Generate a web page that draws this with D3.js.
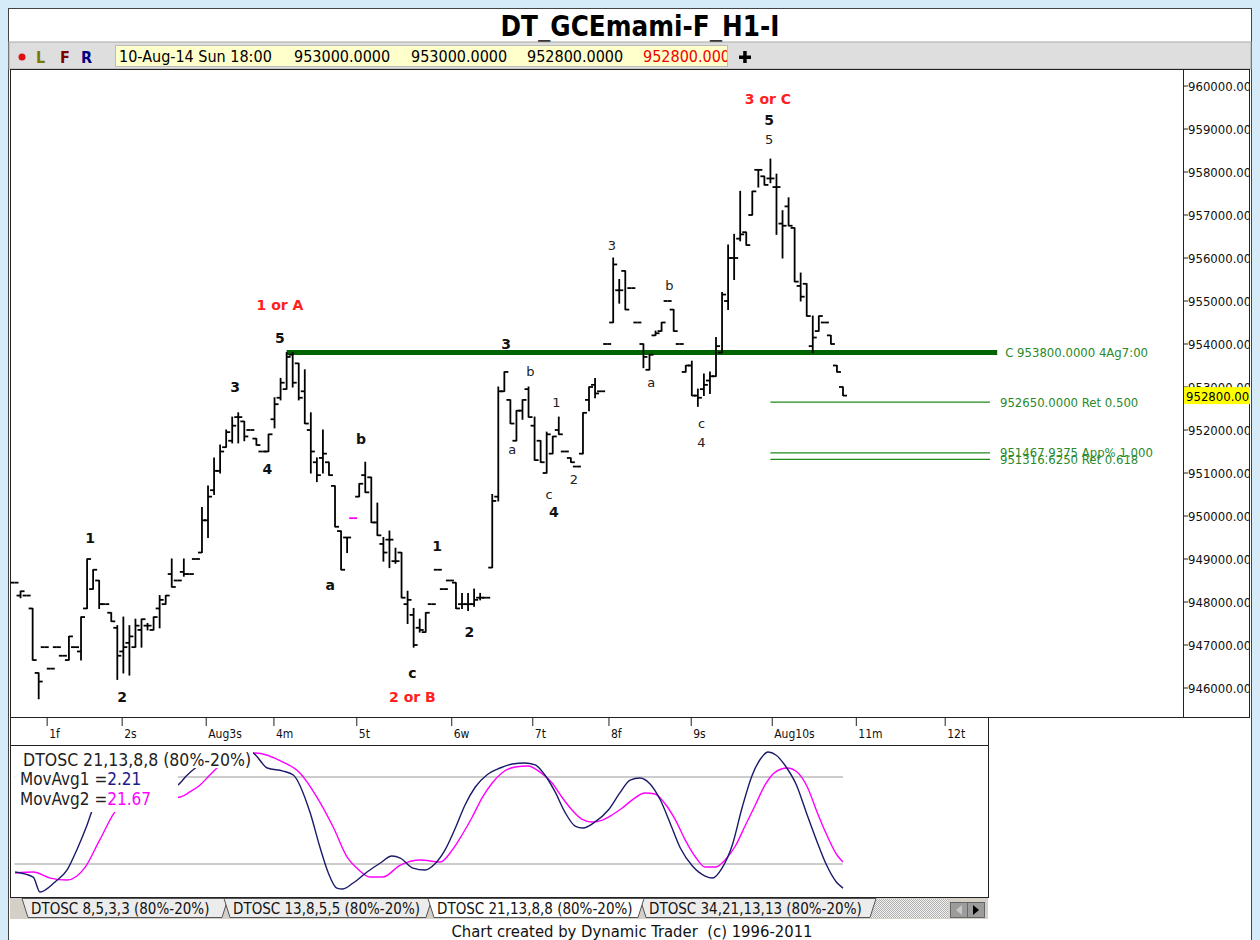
<!DOCTYPE html>
<html>
<head>
<meta charset="utf-8">
<script src="https://cdn.jsdelivr.net/npm/d3@7"></script>
<style>
  body { margin: 0; background: #d5ecf8; }
  svg { display: block; }
</style>
</head>
<body>
<svg id="chart" width="1260" height="940"></svg>
<script>
///////////////////////////////////////////
// Data
///////////////////////////////////////////
var chartTitle = "DT_GCEmami-F_H1-I";
var lastBarStamp = "10-Aug-14 Sun 18:00";

// hourly bars, [open, high, low, close]
var priceBars = [
  [948450,948450,948450,948450],[948150,948250,948100,948250],[948150,948150,948150,948150],
  [947850,947850,946650,946650],[946350,946350,945750,946150],[946950,946950,946950,946950],
  [946450,946450,946450,946450],[946950,946950,946950,946950],[946750,946750,946750,946750],
  [946650,947200,946650,947200],[946950,946950,946950,946950],[946850,947650,946650,947650],
  [947850,949000,947850,949000],[948300,948750,948300,948750],[948500,948500,947850,947950],
  [947950,947950,947950,947950],[947750,947750,947550,947550],[947400,947450,946200,946750],
  [946850,947650,946350,946950],[947050,947450,946300,947200],[946950,947600,946950,947450],
  [947350,947600,946950,947600],[947450,947500,947350,947450],[947350,947650,947350,947650],
  [947850,948150,947400,948050],[947950,948150,947950,948150],[948650,949000,948350,948350],
  [948500,948500,948500,948500],[948700,949000,948600,948650],[948650,948650,948650,948650],
  [949000,949000,949000,949000],[949150,950200,949150,949900],[949900,950700,949500,950450],
  [950600,951350,950500,951050],[951050,951650,951000,951500],[951600,952000,951600,951950],
  [951750,952300,951700,952100],[952300,952400,951700,952300],[952200,952200,951750,951850],
  [952000,952000,952000,952000],[951800,951800,951650,951650],[951500,951500,951500,951500],
  [951500,951900,951500,951900],[952250,952750,952050,952600],[952750,953200,952700,953100],
  [952950,953800,952950,953700],[953750,953800,953000,953100],[953550,953550,952700,952750],
  [952900,953400,952150,952150],[952000,952400,951000,951500],[951250,951350,950800,950950],
  [951350,952000,951000,951450],[951250,951250,950950,950950],[950700,950700,949750,949750],
  [949650,949650,948750,948750],[949500,949500,949150,949500],[949950,949950,949950,949950],
  [950450,950750,950450,950750],[950950,951250,950550,950550],[950900,950900,949850,949850],
  [949850,950300,949550,949550],[949350,949500,948950,949150],[949450,949650,948800,949450],
  [948950,949250,948900,948950],[949150,949150,948100,948100],[947950,948250,947500,948050],
  [947700,947850,946950,947000],[947400,947600,947300,947350],[947300,947750,947300,947750],
  [947950,947950,947950,947950],[948750,948750,948750,948750],[948300,948300,948300,948300],
  [948500,948500,948500,948500],[948450,948450,947850,947850],[947950,948200,947850,947950],
  [947950,948200,947800,947950],[947950,948300,947900,948050],[948100,948200,948050,948100],
  [948100,948100,948100,948100],[948800,950500,948800,950350],[950450,953000,950350,952900],
  [952900,953350,952900,953350],[952700,952700,952150,952150],[951750,952450,951750,952450],
  [952450,952700,952250,952700],[952950,953000,952300,952300],[952100,952300,951300,951300],
  [951750,951750,951250,951250],[951000,951950,951000,951900],[951450,951850,951450,951850],
  [952000,952300,951900,951900],[951500,951500,951500,951500],[951350,951350,951250,951250],
  [951150,951150,951150,951150],[951450,952400,951450,952400],[952700,953000,952450,953000],
  [953050,953200,952750,952850],[952900,952900,952900,952900],[954000,954000,954000,954000],
  [954500,956000,954500,955850],[955250,955500,954950,955250],[955700,955700,954800,954800],
  [955300,955300,955300,955300],[954500,954500,954500,954500],[954000,954000,953450,953700],
  [953400,953750,953400,953750],[954200,954300,954200,954250],[954300,954500,954300,954500],
  [955000,955000,955000,955000],[954800,954800,954300,954300],[954000,954000,954000,954000],
  [953350,953500,953350,953500],[953500,953600,952800,952800],[952800,952950,952550,952750],
  [952950,953300,952800,953050],[953150,953350,952850,953250],[953250,954150,953250,953950],
  [953800,955200,953800,955150],[955000,956300,954800,956000],[956000,956550,955500,956000],
  [956450,957550,956400,956550],[956600,956600,956300,956300],[957000,957550,957000,957550],
  [958050,958050,957650,958050],[957900,957900,957700,957700],[957850,958300,957750,957850],
  [957650,957950,956550,957650],[956800,957100,956000,956750],[957200,957400,956750,956750],
  [956700,956700,955450,955450],[955350,955650,955000,955100],[955400,955400,954650,954650],
  [953950,954650,953800,954150],[954300,954650,954300,954650],[954500,954500,954500,954500],
  [954200,954200,954000,954000],[953500,953500,953350,953350],[953000,953000,952800,952800]
];
var markerBar = 56;   // the one bar DT paints in magenta

var priceTicks = [946000,947000,948000,949000,950000,951000,952000,953000,
                  954000,955000,956000,957000,958000,959000,960000];

// day separators, in bar units
var dayTicks  = [5.4, 17.8, 31.7, 42.9, 56.6, 72.3, 85.7, 98.3, 111.9, 125.3, 139.2, 153.9];
var dayLabels = ["1f","2s","Aug3s","4m","5t","6w","7t","8f","9s","Aug10s","11m","12t"];

// wave counts: t = bar position, p = price
var waveLabels = [
  {t:12.5, p:949500, text:"1", kind:"major"},
  {t:17.8, p:945800, text:"2", kind:"major"},
  {t:36.5, p:953000, text:"3", kind:"major"},
  {t:41.8, p:951100, text:"4", kind:"major"},
  {t:43.9, p:954150, text:"5", kind:"major"},
  {t:43.9, p:954900, text:"1 or A", kind:"alt"},
  {t:52.2, p:948400, text:"a", kind:"major"},
  {t:57.3, p:951800, text:"b", kind:"major"},
  {t:65.8, p:946350, text:"c", kind:"major"},
  {t:65.8, p:945800, text:"2 or B", kind:"alt"},
  {t:69.9, p:949300, text:"1", kind:"major"},
  {t:75.2, p:947300, text:"2", kind:"major"},
  {t:81.3, p:954000, text:"3", kind:"major"},
  {t:89.2, p:950100, text:"4", kind:"major"},
  {t:124.6, p:959700, text:"3 or C", kind:"alt"},
  {t:124.8, p:959200, text:"5", kind:"major"},
  {t:85.3, p:953350, text:"b", kind:"minor"},
  {t:82.3, p:951550, text:"a", kind:"minor"},
  {t:89.6, p:952650, text:"1", kind:"minor"},
  {t:88.4, p:950500, text:"c", kind:"minor"},
  {t:92.5, p:950850, text:"2", kind:"minor"},
  {t:98.8, p:956300, text:"3", kind:"minor"},
  {t:105.3, p:953100, text:"a", kind:"minor"},
  {t:108.3, p:955350, text:"b", kind:"minor"},
  {t:113.6, p:952150, text:"c", kind:"minor"},
  {t:113.6, p:951700, text:"4", kind:"minor"},
  {t:124.8, p:958750, text:"5", kind:"minor"}
];

var keyLevel  = {p:953800, from:45, to:162.5, label:"C 953800.0000 4Ag7:00"};
var fibLevels = [
  {p:952650,      from:125, to:161.3, label:"952650.0000 Ret 0.500"},
  {p:951467.9375, from:125, to:161.3, label:"951467.9375 App% 1.000"},
  {p:951316.625,  from:125, to:161.3, label:"951316.6250 Ret 0.618"}
];

// DTOSC 21,13,8,8 : [bar, %]
var oscFast = [[0.1,14.5],[3.1,11.0],[4.2,0.7],[6.7,7.6],[8.7,15.9],[10.3,29.7],[12.0,46.9],[13.0,58.6],
  [15.0,71.0],[17.5,77.9],[20.8,75.9],[24.1,71.0],[27.0,74.5],[28.4,80.7],[29.9,86.2],[33.2,93.8],
  [36.5,98.6],[39.4,96.6],[41.8,86.2],[44.4,84.1],[46.1,81.4],[48.9,55.2],[50.5,31.7],[51.9,13.8],
  [53.3,3.4],[54.3,2.8],[56.0,6.9],[58.3,14.5],[60.5,20.7],[62.4,25.5],[63.8,24.1],[65.9,17.2],
  [67.9,15.9],[69.5,20.0],[71.2,29.7],[72.9,44.8],[74.5,60.7],[76.2,73.1],[78.1,81.4],[80.3,86.2],
  [82.3,89.0],[84.4,89.7],[86.1,88.3],[87.7,81.4],[89.4,69.7],[91.0,55.9],[92.7,46.2],[94.0,44.8],
  [96.0,49.0],[98.2,57.2],[100.1,69.0],[101.8,77.9],[103.4,79.3],[105.1,75.2],[106.8,64.1],[108.4,48.3],
  [110.1,31.0],[112.1,18.6],[114.2,11.7],[115.4,10.3],[117.0,17.2],[118.7,33.1],[120.3,58.6],[122.0,81.4],
  [123.6,93.8],[124.6,97.2],[125.9,95.2],[127.6,86.9],[129.3,74.5],[130.9,55.9],[132.6,36.6],[134.2,20.0],
  [135.9,7.6],[137.0,3.4]];
var oscSlow = [[0.1,13.8],[3.1,14.5],[5.9,10.3],[8.7,9.0],[11.7,17.9],[14.1,36.6],[17.1,58.6],[19.9,64.1],
  [23.2,65.5],[25.7,65.5],[27.4,66.2],[29.0,69.7],[30.7,74.5],[32.3,81.4],[33.7,86.9],[36.5,93.1],
  [39.8,96.6],[44.4,90.3],[47.2,82.8],[50.0,66.2],[52.7,45.5],[55.0,24.8],[56.6,17.2],[58.8,11.0],
  [60.9,11.0],[63.8,19.3],[67.1,22.8],[70.4,21.4],[72.4,29.7],[74.0,40.0],[75.7,52.4],[77.3,65.5],
  [79.0,75.9],[80.6,82.8],[82.8,86.9],[84.9,87.6],[86.9,83.4],[88.9,75.9],[90.5,66.2],[92.2,57.2],
  [93.8,51.0],[95.5,49.0],[97.2,50.3],[98.8,53.8],[100.5,58.6],[102.1,64.1],[104.3,69.0],[105.9,68.3],
  [107.6,61.4],[109.3,50.3],[110.9,36.6],[112.6,24.8],[114.2,17.9],[115.9,17.9],[117.5,22.8],[119.2,32.4],
  [120.8,46.2],[122.5,60.7],[124.1,74.5],[125.8,83.4],[127.8,86.2],[129.4,83.4],[131.1,73.1],[132.7,55.9],
  [134.4,39.3],[136.0,26.2],[137.0,21.4]];
var oscBands = [80, 20];
var oscTitle = "DTOSC 21,13,8,8 (80%-20%)";
var movAvg1 = "2.21", movAvg2 = "21.67";
var oscTabs = ["DTOSC 8,5,3,3 (80%-20%)", "DTOSC 13,8,5,5 (80%-20%)",
               "DTOSC 21,13,8,8 (80%-20%)", "DTOSC 34,21,13,13 (80%-20%)"];
var activeTab = 2;
var footerText = "Chart created by Dynamic Trader  (c) 1996-2011";

///////////////////////////////////////////
// Drawing
///////////////////////////////////////////
var FONT = "'DejaVu Sans Condensed','DejaVu Sans',sans-serif";
var WIDE = "'DejaVu Sans',Verdana,sans-serif";
var svg = d3.select("#chart");
var f4 = d3.format(".4f"), f2 = d3.format(".2f");

var x = d3.scaleLinear().domain([0, priceBars.length - 1]).range([14.5, 843]);
var y = d3.scaleLinear().domain([946000, 960000]).range([688, 86]);
var yo = d3.scaleLinear().domain([0, 100]).range([893, 748]);

// frame
svg.append("rect").attr("width", 1260).attr("height", 940).attr("fill", "#d5ecf8");
svg.append("rect").attr("x", 8.5).attr("y", 8.5).attr("width", 1243).attr("height", 940)
  .attr("fill", "#fff").attr("stroke", "#444");

svg.append("text").attr("x", 640).attr("y", 36).attr("text-anchor", "middle")
  .attr("font-family", FONT).attr("font-size", 27.5).attr("font-weight", "bold").text(chartTitle);

// toolbar with last bar readout
svg.append("rect").attr("x", 9).attr("y", 42).attr("width", 1242).attr("height", 27)
  .attr("fill", "#dedede").attr("stroke", "#aaa");
svg.append("circle").attr("cx", 22).attr("cy", 57).attr("r", 3.5).attr("fill", "#e01010");
[["L", 36, "#7a7a00"], ["F", 60, "#800000"], ["R", 81, "#000080"]].forEach(function(d) {
  svg.append("text").attr("x", d[1]).attr("y", 63).attr("font-family", FONT)
    .attr("font-size", 16).attr("font-weight", "bold").attr("fill", d[2]).text(d[0]);
});
svg.append("rect").attr("x", 115.5).attr("y", 45.5).attr("width", 612).attr("height", 21)
  .attr("fill", "#ffffcc").attr("stroke", "#bbb");
var last = priceBars[priceBars.length - 1];
var readout = [[lastBarStamp, 119, "#000"], [f4(last[0]), 294, "#000"], [f4(last[1]), 411, "#000"],
               [f4(last[2]), 527, "#000"], [f4(last[3]), 643, "#f00000"]];
svg.append("clipPath").attr("id", "readClip").append("rect")
  .attr("x", 116).attr("y", 46).attr("width", 611).attr("height", 20);
readout.forEach(function(d) {
  svg.append("text").attr("x", d[1]).attr("y", 62).attr("clip-path", "url(#readClip)")
    .attr("font-family", FONT).attr("font-size", 16).attr("fill", d[2]).text(d[0]);
});
svg.append("rect").attr("x", 739).attr("y", 55.5).attr("width", 12).attr("height", 3.5).attr("fill", "#000");
svg.append("rect").attr("x", 743.2).attr("y", 51).attr("width", 3.5).attr("height", 12).attr("fill", "#000");

// price panel
svg.append("rect").attr("x", 10.5).attr("y", 69.5).attr("width", 1239).attr("height", 648)
  .attr("fill", "#fff").attr("stroke", "#222");
svg.append("line").attr("x1", 1183.5).attr("x2", 1183.5).attr("y1", 70).attr("y2", 717)
  .attr("stroke", "#222");

svg.append("clipPath").attr("id", "axisClip").append("rect")
  .attr("x", 1184).attr("y", 70).attr("width", 65).attr("height", 647);
var yAxis = svg.append("g").attr("clip-path", "url(#axisClip)");
priceTicks.forEach(function(p) {
  yAxis.append("line").attr("x1", 1184).attr("x2", 1188).attr("y1", y(p)).attr("y2", y(p))
    .attr("stroke", "#222");
  yAxis.append("text").attr("x", 1188).attr("y", y(p) + 4.5).attr("font-family", FONT)
    .attr("font-size", 13).attr("fill", "#111").text(f2(p));
});

// C level and fib targets
svg.append("line").attr("x1", x(keyLevel.from)).attr("x2", x(keyLevel.to))
  .attr("y1", y(keyLevel.p)).attr("y2", y(keyLevel.p)).attr("stroke", "#006400").attr("stroke-width", 5);
svg.append("text").attr("x", x(keyLevel.to) + 8).attr("y", y(keyLevel.p) + 4.5)
  .attr("font-family", FONT).attr("font-size", 13).attr("fill", "#2a8a2a").text(keyLevel.label);
fibLevels.forEach(function(d) {
  svg.append("line").attr("x1", x(d.from)).attr("x2", x(d.to)).attr("y1", y(d.p)).attr("y2", y(d.p))
    .attr("stroke", "#1e8a1e").attr("stroke-width", 1.2);
  svg.append("text").attr("x", x(d.to) + 10).attr("y", y(d.p) + 4.5)
    .attr("font-family", FONT).attr("font-size", 13).attr("fill", "#2a8a2a").text(d.label);
});

// OHLC bars
var bars = svg.append("g").attr("stroke-width", 1.8);
priceBars.forEach(function(b, i) {
  var cx = x(i), col = (i === markerBar) ? "#ff00ff" : "#000";
  if (b[1] !== b[2])
    bars.append("line").attr("x1", cx).attr("x2", cx).attr("y1", y(b[1]) - 0.5).attr("y2", y(b[2]) + 0.5)
      .attr("stroke", col);
  bars.append("line").attr("x1", cx - 4).attr("x2", cx).attr("y1", y(b[0])).attr("y2", y(b[0]))
    .attr("stroke", col);
  bars.append("line").attr("x1", cx).attr("x2", cx + 4).attr("y1", y(b[3])).attr("y2", y(b[3]))
    .attr("stroke", col);
});

// wave labels
waveLabels.forEach(function(d) {
  var t = svg.append("text").attr("x", x(d.t)).attr("y", y(d.p)).attr("text-anchor", "middle")
    .attr("dominant-baseline", "central").text(d.text);
  if (d.kind === "minor") t.attr("font-family", WIDE).attr("font-size", 13).attr("fill", "#222");
  else t.attr("font-family", WIDE).attr("font-size", 14).attr("font-weight", "bold")
        .attr("fill", d.kind === "alt" ? "#ff2020" : "#111");
});

// last price flag
svg.append("rect").attr("x", 1184).attr("y", y(last[3]) - 8.5).attr("width", 66).attr("height", 17)
  .attr("fill", "#ffff00");
svg.append("text").attr("x", 1186).attr("y", y(last[3]) + 5).attr("clip-path", "url(#axisClip)")
  .attr("font-family", FONT).attr("font-size", 13).attr("fill", "#000").text(f2(last[3]));

// date strip
svg.append("rect").attr("x", 10.5).attr("y", 717.5).attr("width", 978).attr("height", 28)
  .attr("fill", "#fff").attr("stroke", "#222");
dayTicks.forEach(function(t, i) {
  svg.append("line").attr("x1", x(t)).attr("x2", x(t)).attr("y1", 718).attr("y2", 726)
    .attr("stroke", "#222");
  svg.append("text").attr("x", x(t) + 2).attr("y", 738).attr("font-family", FONT)
    .attr("font-size", 12).attr("fill", "#111").text(dayLabels[i]);
});

// oscillator panel
svg.append("rect").attr("x", 10.5).attr("y", 745.5).attr("width", 978).attr("height", 152)
  .attr("fill", "#fff").attr("stroke", "#222");
oscBands.forEach(function(v) {
  svg.append("line").attr("x1", x(0)).attr("x2", x(priceBars.length - 1))
    .attr("y1", yo(v)).attr("y2", yo(v)).attr("stroke", "#9a9a9a").attr("stroke-width", 1.2);
});
var oscLine = d3.line().x(function(d) { return x(d[0]); }).y(function(d) { return yo(d[1]); })
  .curve(d3.curveMonotoneX);
svg.append("path").attr("d", oscLine(oscSlow)).attr("fill", "none")
  .attr("stroke", "#ff00ff").attr("stroke-width", 1.4);
svg.append("path").attr("d", oscLine(oscFast)).attr("fill", "none")
  .attr("stroke", "#1a1a6a").attr("stroke-width", 1.4);

// legend (white boxes hide the lines, as in DT)
[[15, 748, 238, 20], [15, 768, 163, 22], [15, 790, 163, 22]].forEach(function(r) {
  svg.append("rect").attr("x", r[0]).attr("y", r[1]).attr("width", r[2]).attr("height", r[3])
    .attr("fill", "#fff");
});
svg.append("text").attr("x", 23).attr("y", 766).attr("font-family", FONT).attr("font-size", 17.5)
  .attr("fill", "#222").text(oscTitle);
var l1 = svg.append("text").attr("x", 20).attr("y", 785).attr("font-family", FONT)
  .attr("font-size", 17).attr("fill", "#222").text("MovAvg1 =");
l1.append("tspan").attr("fill", "#1a1a8a").text(movAvg1);
var l2 = svg.append("text").attr("x", 20).attr("y", 805).attr("font-family", FONT)
  .attr("font-size", 17).attr("fill", "#222").text("MovAvg2 =");
l2.append("tspan").attr("fill", "#ff00ff").text(movAvg2);

// tabs
svg.append("rect").attr("x", 10).attr("y", 898).attr("width", 978).attr("height", 21).attr("fill", "#d4d0c8");
var pat = svg.append("pattern").attr("id", "hatch").attr("width", 2).attr("height", 2)
  .attr("patternUnits", "userSpaceOnUse");
pat.append("rect").attr("width", 2).attr("height", 2).attr("fill", "#f2f2f2");
pat.append("rect").attr("width", 1).attr("height", 1).attr("fill", "#b0b0b0");
pat.append("rect").attr("x", 1).attr("y", 1).attr("width", 1).attr("height", 1).attr("fill", "#b0b0b0");
svg.append("rect").attr("x", 868).attr("y", 899).attr("width", 80).attr("height", 19).attr("fill", "url(#hatch)");
var tabX = [22, 224, 428, 640, 872];
var order = [0, 1, 3, 2];
order.forEach(function(i) {
  var x0 = tabX[i], x1 = tabX[i + 1] + 4;
  svg.append("path")
    .attr("d", "M" + x0 + ",898.5L" + x1 + ",898.5L" + (x1 - 6) + ",917.5L" + (x0 + 6) + ",917.5Z")
    .attr("fill", i === activeTab ? "#fff" : "#ececec").attr("stroke", "#555");
  svg.append("text").attr("x", x0 + 9).attr("y", 914).attr("font-family", FONT)
    .attr("font-size", 15).attr("fill", "#111").text(oscTabs[i]);
});
svg.append("rect").attr("x", 950.5).attr("y", 902.5).attr("width", 17).attr("height", 15)
  .attr("fill", "#9c9c9c").attr("stroke", "#666");
svg.append("rect").attr("x", 967.5).attr("y", 902.5).attr("width", 17).attr("height", 15)
  .attr("fill", "#9c9c9c").attr("stroke", "#666");
svg.append("path").attr("d", "M962,905L956,910L962,915Z").attr("fill", "#c8c8c8");
svg.append("path").attr("d", "M973,905L979,910L973,915Z").attr("fill", "#000");

svg.append("text").attr("x", 632).attr("y", 937).attr("text-anchor", "middle")
  .attr("font-family", FONT).attr("font-size", 16.5).attr("fill", "#111")
  .style("white-space", "pre").text(footerText);
</script>
</body>
</html>
